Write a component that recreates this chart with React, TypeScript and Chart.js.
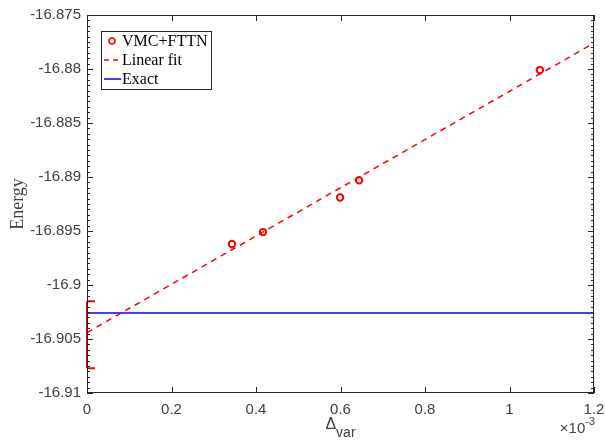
import React, { useEffect, useRef } from "react";
import { Chart, registerables } from "chart.js";

Chart.register(...registerables);

// ---- data ----
const deltaVar = [0.343, 0.4166, 0.599, 0.644, 1.072]; // ×10^-3
const energy = [-16.8962, -16.8951, -16.8919, -16.8903, -16.8801];
const fitX = [0, 1.2];
const fitY = [-16.9044, -16.8776];
const exactX = [0, 1.2];
const exactY = [-16.9026, -16.9026];
const extrapX = [0];
const extrapY = [-16.9046];
const extrapErr = [0.0031];
const xTicks = [0, 0.2, 0.4, 0.6, 0.8, 1, 1.2];
const xTickLabels = ["0", "0.2", "0.4", "0.6", "0.8", "1", "1.2"];
const yTicks = [-16.91, -16.905, -16.9, -16.895, -16.89, -16.885, -16.88, -16.875];
const yTickLabels = ["-16.91", "-16.905", "-16.9", "-16.895", "-16.89", "-16.885", "-16.88", "-16.875"];
const yMinorPerMajor = 10;
const legendLabels = ["VMC+FTTN", "Linear fit", "Exact"];
const xTitleMain = "Δ";
const xTitleSub = "var";
const yTitle = "Energy";
const xExpBase = "×10";
const xExpPow = "-3";

const AXIS = "#262626";
const TICKC = "#404040";
const SANS = "'Liberation Sans', Arial, sans-serif";
const SERIF = "'Liberation Serif', 'Times New Roman', serif";

const decorPlugin = {
  id: "decor",
  afterDatasetsDraw(chart: any) {
    const ctx = chart.ctx;
    const xs = chart.scales.x;
    const ys = chart.scales.y;
    ctx.save();
    ctx.strokeStyle = "#ff0000";
    ctx.lineWidth = 2;
    for (let i = 0; i < extrapX.length; i++) {
      const px = xs.getPixelForValue(extrapX[i]);
      const y1 = ys.getPixelForValue(extrapY[i] + extrapErr[i]);
      const y2 = ys.getPixelForValue(extrapY[i] - extrapErr[i]);
      ctx.beginPath();
      ctx.moveTo(px, y1);
      ctx.lineTo(px, y2);
      ctx.moveTo(Math.max(px - 8, chart.chartArea.left), y1);
      ctx.lineTo(px + 8, y1);
      ctx.moveTo(Math.max(px - 8, chart.chartArea.left), y2);
      ctx.lineTo(px + 8, y2);
      ctx.stroke();
    }
    ctx.restore();
  },
  afterDraw(chart: any) {
    const ctx = chart.ctx;
    const { left, right, top, bottom } = chart.chartArea;
    const xs = chart.scales.x;
    const ys = chart.scales.y;
    ctx.save();
    ctx.strokeStyle = AXIS;
    ctx.lineWidth = 1;
    ctx.strokeRect(Math.round(left) + 0.5, Math.round(top) + 0.5, Math.round(right - left) - 1, Math.round(bottom - top) - 1);
    ctx.beginPath();
    for (const v of xTicks) {
      const px = Math.round(xs.getPixelForValue(v)) + 0.5;
      ctx.moveTo(px, bottom);
      ctx.lineTo(px, bottom - 6);
      ctx.moveTo(px, top);
      ctx.lineTo(px, top + 6);
    }
    const ymin = yTicks[0];
    const ymax = yTicks[yTicks.length - 1];
    const step = (yTicks[1] - yTicks[0]) / yMinorPerMajor;
    const n = Math.round((ymax - ymin) / step);
    for (let i = 0; i <= n; i++) {
      const v = ymin + i * step;
      const py = Math.round(ys.getPixelForValue(v)) + 0.5;
      const len = i % yMinorPerMajor === 0 ? 6 : 3;
      ctx.moveTo(left, py);
      ctx.lineTo(left + len, py);
      ctx.moveTo(right, py);
      ctx.lineTo(right - len, py);
    }
    ctx.stroke();

    // axis titles
    ctx.fillStyle = "#404040";
    ctx.textBaseline = "alphabetic";
    ctx.textAlign = "left";
    ctx.font = "16px " + SANS;
    const cx = (left + right) / 2;
    const wMain = ctx.measureText(xTitleMain).width;
    ctx.font = "14px " + SANS;
    const wSub = ctx.measureText(xTitleSub).width;
    const startX = cx - (wMain + wSub) / 2;
    ctx.font = "16px " + SANS;
    ctx.fillText(xTitleMain, startX, 429);
    ctx.font = "14px " + SANS;
    ctx.fillText(xTitleSub, startX + wMain, 437);

    ctx.font = "15px " + SANS;
    const wBase = ctx.measureText(xExpBase).width;
    ctx.font = "11px " + SANS;
    const wPow = ctx.measureText(xExpPow).width;
    const ex = right - wBase - wPow + 1;
    ctx.font = "15px " + SANS;
    ctx.fillText(xExpBase, ex, 433);
    ctx.font = "11px " + SANS;
    ctx.fillText(xExpPow, ex + wBase, 425);

    ctx.save();
    ctx.translate(23, (top + bottom) / 2);
    ctx.rotate(-Math.PI / 2);
    ctx.textAlign = "center";
    ctx.font = "18px " + SERIF;
    ctx.fillText(yTitle, 0, 0);
    ctx.restore();

    // legend
    const lx = 101.5, ly = 31.5, lw = 110, lh = 58;
    ctx.fillStyle = "#ffffff";
    ctx.fillRect(lx, ly, lw, lh);
    ctx.strokeStyle = AXIS;
    ctx.lineWidth = 1;
    ctx.strokeRect(lx, ly, lw, lh);
    const rows = [41, 60, 79];
    ctx.strokeStyle = "#ff0000";
    ctx.lineWidth = 1.5;
    ctx.beginPath();
    ctx.arc(112, rows[0], 3, 0, Math.PI * 2);
    ctx.stroke();
    ctx.setLineDash([5, 4]);
    ctx.beginPath();
    ctx.moveTo(104, rows[1]);
    ctx.lineTo(121, rows[1]);
    ctx.stroke();
    ctx.setLineDash([]);
    ctx.strokeStyle = "#0000ff";
    ctx.beginPath();
    ctx.moveTo(104, rows[2]);
    ctx.lineTo(121, rows[2]);
    ctx.stroke();
    ctx.fillStyle = "#000000";
    ctx.font = "16px " + SERIF;
    ctx.textBaseline = "middle";
    ctx.textAlign = "left";
    legendLabels.forEach((t, i) => ctx.fillText(t, 122, rows[i] + 1));
    ctx.restore();
  },
};

export default function App() {
  const ref = useRef<HTMLCanvasElement | null>(null);
  useEffect(() => {
    if (!ref.current) return;
    const chart = new Chart(ref.current, {
      type: "scatter",
      data: {
        datasets: [
          {
            label: legendLabels[1],
            type: "line",
            data: fitX.map((x, i) => ({ x, y: fitY[i] })),
            borderColor: "#ff0000",
            borderWidth: 1.5,
            borderDash: [6, 5],
            pointRadius: 0,
            fill: false,
          },
          {
            label: legendLabels[2],
            type: "line",
            data: exactX.map((x, i) => ({ x, y: exactY[i] })),
            borderColor: "#0000ff",
            borderWidth: 1.5,
            pointRadius: 0,
            fill: false,
          },
          {
            label: legendLabels[0],
            data: deltaVar.map((x, i) => ({ x, y: energy[i] })),
            borderColor: "#ff0000",
            backgroundColor: "rgba(0,0,0,0)",
            pointRadius: 3.2,
            pointBorderWidth: 2,
          },
        ],
      },
      options: {
        responsive: false,
        animation: false,
        devicePixelRatio: 1,
        layout: { padding: { left: 0, top: 15, right: 11, bottom: 0 } },
        plugins: { legend: { display: false }, tooltip: { enabled: false } },
        scales: {
          x: {
            type: "linear",
            min: xTicks[0],
            max: xTicks[xTicks.length - 1],
            grid: { display: false, drawTicks: false },
            border: { display: false },
            afterBuildTicks: (s: any) => {
              s.ticks = xTicks.map((v) => ({ value: v }));
            },
            afterFit: (s: any) => {
              s.height = 48;
              s.paddingLeft = 0;
              s.paddingRight = 0;
            },
            ticks: {
              color: TICKC,
              font: { family: SANS, size: 15 },
              padding: 8,
              maxRotation: 0,
              autoSkip: false,
              callback: (v: any) => {
                const i = xTicks.findIndex((t) => Math.abs(t - v) < 1e-9);
                return i >= 0 ? xTickLabels[i] : "";
              },
            },
          },
          y: {
            type: "linear",
            min: yTicks[0],
            max: yTicks[yTicks.length - 1],
            grid: { display: false, drawTicks: false },
            border: { display: false },
            afterBuildTicks: (s: any) => {
              s.ticks = yTicks.map((v) => ({ value: v }));
            },
            afterFit: (s: any) => {
              s.width = 87;
              s.paddingTop = 0;
              s.paddingBottom = 0;
            },
            ticks: {
              color: TICKC,
              font: { family: SANS, size: 15 },
              padding: 6,
              autoSkip: false,
              callback: (v: any) => {
                const i = yTicks.findIndex((t) => Math.abs(t - v) < 1e-9);
                return i >= 0 ? yTickLabels[i] : "";
              },
            },
          },
        },
      },
      plugins: [decorPlugin],
    } as any);
    return () => chart.destroy();
  }, []);
  return (
    <div style={{ position: "fixed", left: 0, top: 0, width: 605, height: 441, background: "#fff" }}>
      <canvas ref={ref} width={605} height={441} style={{ display: "block" }} />
    </div>
  );
}
